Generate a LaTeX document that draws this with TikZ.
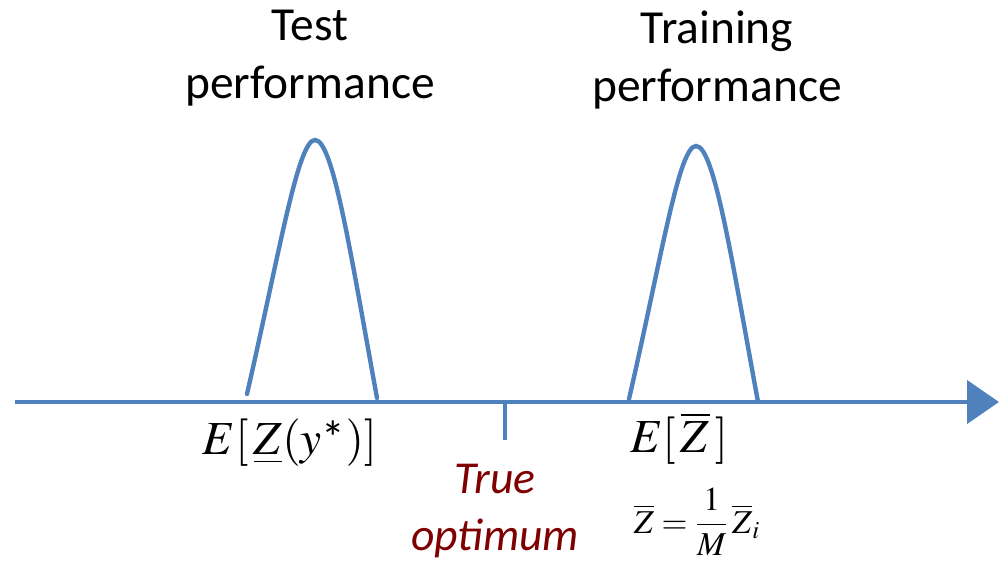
\documentclass[tikz,border=0pt]{standalone}
\usepackage{mathptmx}
\usepackage{fontspec}
\setmainfont{Carlito}
\usetikzlibrary{arrows.meta}
\definecolor{axisblue}{HTML}{4F81BD}
\definecolor{optred}{HTML}{7F0000}
\tikzset{
  curve/.style={axisblue, line width=2.5pt, line cap=round},
  title/.style={align=center, font=\fontsize{27}{33}\selectfont},
  mathlabel/.style={font=\fontsize{27}{30}\selectfont},
}
\begin{document}
\begin{tikzpicture}[x=0.02cm, y=-0.02cm]
 \useasboundingbox (0,0) rectangle (999,564);
 % axis
 \coordinate (start) at (15,402);
 \coordinate (tip) at (999,402);
 \draw[curve, line cap=butt, -{Triangle[length=0.64cm, width=0.86cm]}] (start) -- (tip);
 % tick at the true optimum
 \coordinate (tickA) at (505,402);
 \coordinate (tickB) at (505,440);
 \draw[curve, line cap=butt] (tickA) -- (tickB);
 % test distribution
 \draw[curve] (247,394) .. controls (280,250) and (298,140) .. (315,140)
   .. controls (333,140) and (350,250) .. (377,398);
 % training distribution
 \draw[curve] (629,399) .. controls (662,255) and (679,146) .. (696,146)
   .. controls (714,146) and (731,255) .. (758,402);
 % labels
 \node[title] (test) at (310,58) {Test\\performance};
 \node[title] (train) at (717,60) {Training\\performance};
 \node[mathlabel] (testE) at (290,443) {$E[\,\underline{Z}(y\textrm{*})]$};
 \node[mathlabel] (trainE) at (679,438) {$E[\,\overline{Z}\,]$};
 \node[font=\fontsize{19}{22}\selectfont] (zbar) at (697,522)
   {$\overline{Z}=\displaystyle\frac{1}{M}\,\overline{Z}_{i}$};
 \node[align=center, text=optred, font=\fontsize{26}{32}\selectfont\itshape] (opt) at (495,511)
   {True\\optimum};
\end{tikzpicture}
\end{document}
